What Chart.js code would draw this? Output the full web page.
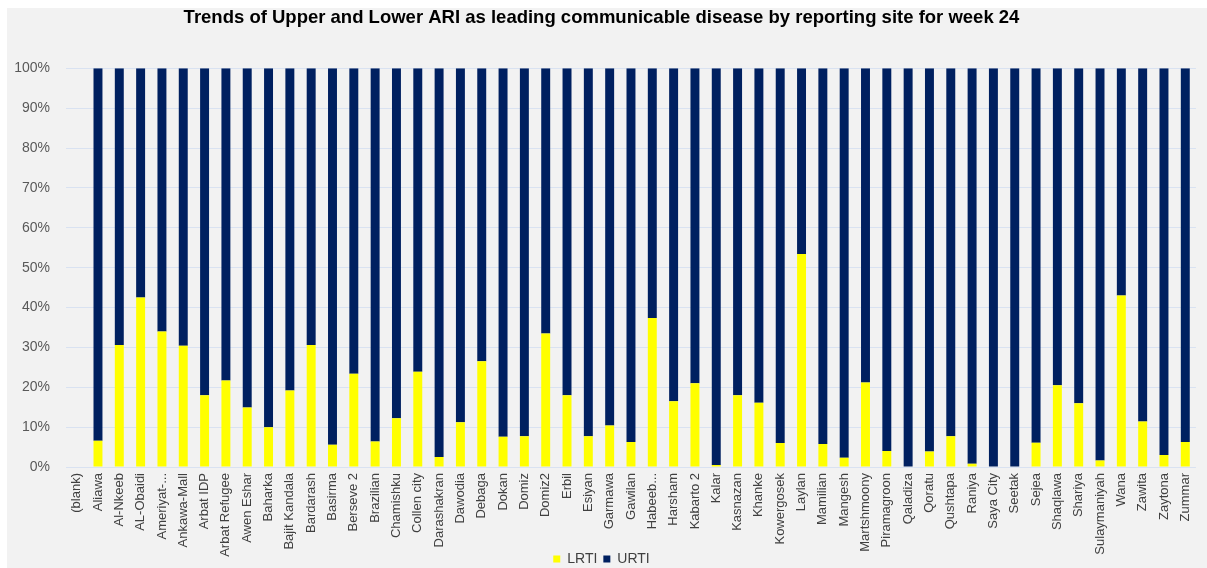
<!DOCTYPE html>
<html>
<head>
<meta charset="utf-8">
<script src="https://cdn.jsdelivr.net/npm/chart.js@4.4.1/dist/chart.umd.min.js"></script>
<style>
  html, body { margin: 0; padding: 0; background: #ffffff; }
  #wrap {
    position: absolute; left: 7px; top: 8px;
    width: 1200px; height: 560px;
    background: #f2f2f2;
  }
</style>
</head>
<body>
<div id="wrap"><canvas id="chart"></canvas></div>
<script>
  // reporting sites, week 24
  const sites = [
    '(blank)', 'Aliawa', 'Al-Nkeeb', 'AL-Obaidi', 'Ameriyat-...', 'Ankawa-Mall', 'Arbat IDP',
    'Arbat Refugee', 'Awen Eshar', 'Baharka', 'Bajit Kandala', 'Bardarash', 'Basirma',
    'Berseve 2', 'Brazilian', 'Chamishku', 'Collen city', 'Darashakran', 'Dawodia', 'Debaga',
    'Dokan', 'Domiz', 'Domiz2', 'Erbil', 'Esiyan', 'Garmawa', 'Gawilan', 'Habeeb...',
    'Harsham', 'Kabarto 2', 'Kalar', 'Kasnazan', 'Khanke', 'Kowergosek', 'Laylan', 'Mamilian',
    'Mangesh', 'Martshmoony', 'Piramagroon', 'Qaladiza', 'Qoratu', 'Qushtapa', 'Raniya',
    'Saya City', 'Seetak', 'Sejea', 'Shaqlawa', 'Shariya', 'Sulaymaniyah', 'Wana', 'Zawita',
    'Zaytona', 'Zummar'
  ];

  // share of lower ARI (%)
  const lrti = [
    0, 6.6, 30.6, 42.5, 34.0, 30.4, 18.0,
    21.7, 14.9, 10.0, 19.2, 30.6, 5.6,
    23.4, 6.4, 12.2, 23.9, 2.5, 11.2, 26.5,
    7.6, 7.7, 33.5, 18.0, 7.7, 10.4, 6.3, 37.4,
    16.5, 21.0, 0.5, 18.0, 16.1, 6.0, 53.4, 5.8,
    2.3, 21.2, 4.0, 0, 3.9, 7.7, 0.8,
    0, 0, 6.1, 20.5, 16.0, 1.6, 43.0, 11.4,
    3.0, 6.3
  ];

  // share of upper ARI (%)
  const urti = [
    0, 93.4, 69.4, 57.5, 66.0, 69.6, 82.0,
    78.3, 85.1, 90.0, 80.8, 69.4, 94.4,
    76.6, 93.6, 87.8, 76.1, 97.5, 88.8, 73.5,
    92.4, 92.3, 66.5, 82.0, 92.3, 89.6, 93.7, 62.6,
    83.5, 79.0, 99.5, 82.0, 83.9, 94.0, 46.6, 94.2,
    97.7, 78.8, 96.0, 100, 96.1, 92.3, 99.2,
    100, 100, 93.9, 79.5, 84.0, 98.4, 57.0, 88.6,
    97.0, 93.7
  ];

  const FONT = "'Liberation Sans', Arial, sans-serif";
  const GRID = '#d9e2f1';
  const TEXT = '#404040';

  // Excel lets the long site names run down under the legend;
  // stretch the x axis box to the canvas bottom and nudge the legend down.
  const overlapLegend = {
    id: 'overlapLegend',
    afterLayout(chart) {
      const x = chart.scales.x;
      x.bottom = chart.height;
      x.height = x.bottom - x.top;
      chart.legend.top += 8;
      chart.legend.bottom += 8;
    }
  };

  new Chart(document.getElementById('chart'), {
    type: 'bar',
    data: {
      labels: sites,
      datasets: [
        { label: 'LRTI', data: lrti, backgroundColor: '#ffff00', stack: 's' },
        { label: 'URTI', data: urti, backgroundColor: '#002060', stack: 's' }
      ]
    },
    options: {
      responsive: true,
      maintainAspectRatio: false,
      animation: false,
      barPercentage: 0.42,
      categoryPercentage: 1,
      layout: { padding: { left: 0, right: 11, top: 0, bottom: 0 } },
      plugins: {
        title: {
          display: true,
          text: 'Trends of Upper and Lower ARI as leading communicable disease by reporting site for week 24',
          color: '#000000',
          font: { family: FONT, size: 18.5, weight: 'bold', lineHeight: 1.1 },
          padding: { top: 0, bottom: 40 }
        },
        legend: {
          position: 'bottom',
          labels: {
            boxWidth: 7, boxHeight: 7, padding: 6,
            color: TEXT,
            font: { family: FONT, size: 14 }
          }
        },
        tooltip: { enabled: false }
      },
      scales: {
        x: {
          stacked: true,
          grid: { display: false, drawTicks: false },
          border: { display: false },
          ticks: {
            autoSkip: false, maxRotation: 90, minRotation: 90,
            padding: 6, color: TEXT,
            font: { family: FONT, size: 13 }
          },
          afterFit: (s) => { s.height = 71; }
        },
        y: {
          stacked: true,
          min: 0, max: 100,
          grid: { color: GRID, drawTicks: false },
          border: { display: false },
          ticks: {
            stepSize: 10, padding: 16, color: '#595959',
            font: { family: FONT, size: 14 },
            callback: (v) => v + '%'
          },
          afterFit: (s) => { s.width = 59; }
        }
      }
    },
    plugins: [overlapLegend]
  });
</script>
</body>
</html>
